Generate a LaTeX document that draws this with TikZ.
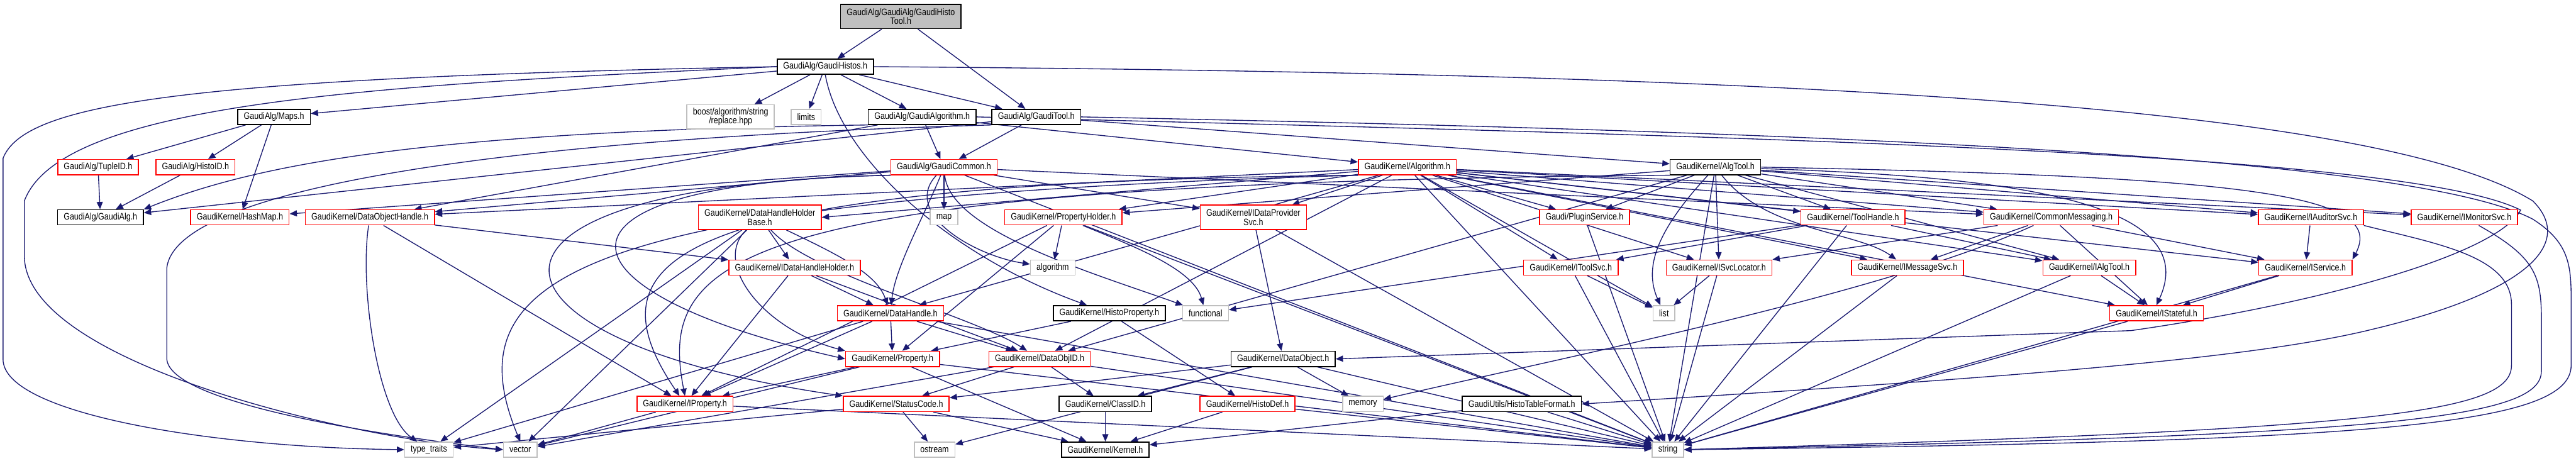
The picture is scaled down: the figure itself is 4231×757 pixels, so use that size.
\documentclass[tikz,border=0pt]{standalone}
\usepackage{fontspec}
\setmainfont{Liberation Sans}[FakeStretch=0.84]
\usetikzlibrary{arrows.meta}
\definecolor{edgecol}{RGB}{25,25,112}
\definecolor{sysgray}{RGB}{191,191,191}
\definecolor{topgray}{RGB}{191,191,191}
\definecolor{nodered}{RGB}{255,0,0}
\pgfdeclarelayer{bg}
\pgfdeclarelayer{edges}
\pgfsetlayers{bg,edges,main}
\newcommand\gfont{\fontsize{15.4}{15}\selectfont}
\tikzset{
  nd/.style={rectangle, minimum height=25pt, inner xsep=10pt, inner ysep=2pt, line width=1.6pt, fill=white, font=\gfont},
  rn/.style={nd, draw=nodered},
  bn/.style={nd, draw=black},
  gn/.style={nd, draw=sysgray},
  tn/.style={nd, draw=black, fill=topgray, align=center, minimum height=40pt},
  two/.style={align=center, minimum height=40pt},
  edgeln/.style={draw=edgecol, line width=1.4pt, -{Triangle[length=12pt,width=10pt]}}
}
\begin{document}
\begin{tikzpicture}[x=1pt,y=-1pt]
\useasboundingbox (0,0) rectangle (4231,757);
\begin{pgfonlayer}{bg}
\fill[white] (0,0) rectangle (4231,757);
\end{pgfonlayer}
% ---------------- nodes ----------------
\node[tn] (top) at (1479.5,27) {GaudiAlg/GaudiAlg/GaudiHisto\\Tool.h};
\node[bn] (histos) at (1355.5,109.5) {GaudiAlg/GaudiHistos.h};
\node[bn] (maps) at (450,192) {GaudiAlg/Maps.h};
\node[gn,two] (boost) at (1200,192) {boost/algorithm/string\\/replace.hpp};
\node[gn] (limits) at (1324,192) {limits};
\node[bn] (galgo) at (1514.5,192) {GaudiAlg/GaudiAlgorithm.h};
\node[bn] (gtool) at (1702,192) {GaudiAlg/GaudiTool.h};
\node[rn] (tupleid) at (161,274.5) {GaudiAlg/TupleID.h};
\node[rn] (histoid) at (321,274.5) {GaudiAlg/HistoID.h};
\node[rn] (gcommon) at (1550.5,274.5) {GaudiAlg/GaudiCommon.h};
\node[rn] (algh) at (2311.5,274.5) {GaudiKernel/Algorithm.h};
\node[bn] (algtool) at (2817.5,274.5) {GaudiKernel/AlgTool.h};
\node[bn] (gaudialg) at (165,357) {GaudiAlg/GaudiAlg.h};
\node[rn] (hashmap) at (394,357) {GaudiKernel/HashMap.h};
\node[rn] (dohandle) at (607.5,357) {GaudiKernel/DataObjectHandle.h};
\node[rn,two] (dhhbase) at (1248,357) {GaudiKernel/DataHandleHolder\\Base.h};
\node[gn] (map) at (1550.5,357) {map};
\node[rn] (propholder) at (1746.5,357) {GaudiKernel/PropertyHolder.h};
\node[rn,two] (idpsvc) at (2058.5,357) {GaudiKernel/IDataProvider\\Svc.h};
\node[rn] (plugin) at (2602.5,357) {Gaudi/PluginService.h};
\node[rn] (toolhandle) at (3043.5,357) {GaudiKernel/ToolHandle.h};
\node[rn] (commsg) at (3369,357) {GaudiKernel/CommonMessaging.h};
\node[rn] (iauditor) at (3795.5,357) {GaudiKernel/IAuditorSvc.h};
\node[rn] (imonitor) at (4047.5,357) {GaudiKernel/IMonitorSvc.h};
\node[rn] (idhholder) at (1305,439.5) {GaudiKernel/IDataHandleHolder.h};
\node[gn] (stdalgo) at (1729,439.5) {algorithm};
\node[rn] (itoolsvc) at (2580,439.5) {GaudiKernel/IToolSvc.h};
\node[rn] (isvcloc) at (2823.5,439.5) {GaudiKernel/ISvcLocator.h};
\node[rn] (imsgsvc) at (3133,439.5) {GaudiKernel/IMessageSvc.h};
\node[rn] (ialgtool) at (3431.5,439.5) {GaudiKernel/IAlgTool.h};
\node[rn] (iservice) at (3786.5,439.5) {GaudiKernel/IService.h};
\node[rn] (datahandle) at (1462.5,514.5) {GaudiKernel/DataHandle.h};
\node[bn] (histoprop) at (1822,514.5) {GaudiKernel/HistoProperty.h};
\node[gn] (functional) at (1980,514.5) {functional};
\node[gn] (list) at (2733,514.5) {list};
\node[rn] (istateful) at (3542,514.5) {GaudiKernel/IStateful.h};
\node[rn] (property) at (1466,589.5) {GaudiKernel/Property.h};
\node[rn] (dataobjid) at (1707.5,589.5) {GaudiKernel/DataObjID.h};
\node[bn] (dataobject) at (2107.5,589.5) {GaudiKernel/DataObject.h};
\node[rn] (iproperty) at (1125,663.5) {GaudiKernel/IProperty.h};
\node[rn] (statuscode) at (1472,663.5) {GaudiKernel/StatusCode.h};
\node[bn] (classid) at (1815.5,663.5) {GaudiKernel/ClassID.h};
\node[rn] (histodef) at (2049,663.5) {GaudiKernel/HistoDef.h};
\node[gn] (memory) at (2238.5,663.5) {memory};
\node[bn] (histotable) at (2499.5,663.5) {GaudiUtils/HistoTableFormat.h};
\node[gn] (typetraits) at (704.5,738.5) {type\_traits};
\node[gn] (vector) at (854.5,738.5) {vector};
\node[gn] (ostream) at (1535,738.5) {ostream};
\node[bn] (kernel) at (1815.5,738.5) {GaudiKernel/Kernel.h};
\node[gn] (string) at (2739.5,738.5) {string};
% ---------------- edges ----------------
\begin{pgfonlayer}{edges}
% top file
\draw[edgeln] (top) -- (histos);
\draw[edgeln] (top) -- (gtool);
% GaudiHistos
\draw[edgeln] (histos) -- (maps);
\draw[edgeln] (histos) -- (boost);
\draw[edgeln] (histos) -- (limits);
\draw[edgeln] (histos) -- (galgo);
\draw[edgeln] (histos) -- (gtool);
\draw[edgeln] (histos.west) .. controls (300,128) and (40,170) .. (5,260) -- (5,590) .. controls (5,680) and (350,735) .. (typetraits.west);
\draw[edgeln] (histos.west) .. controls (600,140) and (100,170) .. (40,330) -- (40,420) .. controls (40,600) and (600,725) .. (vector.west);
\draw[edgeln] (histos.south) .. controls (1380,260) and (1560,420) .. (histoprop);
\draw[edgeln] (histos.east) .. controls (2900,120) and (3900,170) .. (4160,330) .. controls (4230,400) and (4150,480) .. (3900,540) .. controls (3700,590) and (3300,620) .. (histotable.east);
% Maps
\draw[edgeln] (maps) -- (tupleid);
\draw[edgeln] (maps) -- (histoid);
\draw[edgeln] (maps) -- (hashmap);
\draw[edgeln] (tupleid) -- (gaudialg);
\draw[edgeln] (histoid) -- (gaudialg);
% GaudiAlgorithm
\draw[edgeln] (galgo.south west) .. controls (700,215) and (420,270) .. (gaudialg.north east);
\draw[edgeln] (galgo) -- (gcommon);
\draw[edgeln] (galgo) -- (algh);
\draw[edgeln] (galgo) -- (dohandle);
\draw[edgeln] (galgo.east) .. controls (2900,225) and (3950,250) .. (4140,345) .. controls (4100,420) and (3800,500) .. (3500,543) -- (dataobject.east);
% GaudiTool
\draw[edgeln] (gtool) -- (gcommon);
\draw[edgeln] (gtool) -- (gaudialg);
\draw[edgeln] (gtool) -- (algtool);
\draw[edgeln] (gtool.south west) .. controls (900,225) and (290,300) .. (274,440) -- (274,590) .. controls (280,660) and (600,712) .. (vector.west);
\draw[edgeln] (gtool.east) .. controls (2900,215) and (3950,250) .. (4160,360) .. controls (4223,400) and (4223,440) .. (4223,500) -- (4223,600) .. controls (4223,700) and (3900,725) .. (string.east);
% GaudiCommon
\draw[edgeln] (gcommon) -- (hashmap);
\draw[edgeln] (gcommon) -- (dohandle);
\draw[edgeln] (gcommon) -- (map);
\draw[edgeln] (gcommon) -- (idpsvc);
\draw[edgeln] (gcommon) .. controls (1480,350) and (1600,420) .. (stdalgo);
\draw[edgeln] (gcommon) -- (string);
\draw[edgeln] (gcommon.south west) .. controls (700,305) and (760,560) .. (statuscode.north west);
\draw[edgeln] (gcommon.south west) .. controls (850,300) and (900,480) .. (property.west);
\draw[edgeln] (gcommon) .. controls (1520,350) and (1470,440) .. (datahandle);
\draw[edgeln] (gcommon) -- (commsg);
\draw[edgeln] (gcommon) .. controls (1560,380) and (1800,450) .. (functional);
% Algorithm.h
\draw[edgeln] (algh) -- (propholder);
\draw[edgeln] (algh) -- (idpsvc);
\draw[edgeln] (algh) -- (plugin);
\draw[edgeln] (algh) -- (dhhbase.east);
\draw[edgeln] (algh) -- (toolhandle);
\draw[edgeln] (algh) -- (commsg);
\draw[edgeln] (algh) -- (iauditor);
\draw[edgeln] (algh) -- (imonitor);
\draw[edgeln] (algh) -- (iservice);
\draw[edgeln] (algh) -- (istateful);
\draw[edgeln] (algh) -- (isvcloc);
\draw[edgeln] (algh) -- (imsgsvc);
\draw[edgeln] (algh) -- (ialgtool);
\draw[edgeln] (algh) -- (itoolsvc);
\draw[edgeln] (algh.south west) .. controls (1100,300) and (960,420) .. (iproperty);
\draw[edgeln] (algh) -- (dataobjid);
\draw[edgeln] (algh) -- (datahandle);
\draw[edgeln] (algh.south west) .. controls (950,325) and (740,450) .. (vector.north);
\draw[edgeln] (algh) -- (list);
\draw[edgeln] (algh) -- (string);
\draw[edgeln] (algh) -- (dohandle);
% AlgTool.h
\draw[edgeln] (algtool) -- (plugin);
\draw[edgeln] (algtool) -- (toolhandle);
\draw[edgeln] (algtool) -- (commsg);
\draw[edgeln] (algtool) -- (iauditor);
\draw[edgeln] (algtool) -- (imonitor);
\draw[edgeln] (algtool) -- (ialgtool);
\draw[edgeln] (algtool) -- (isvcloc);
\draw[edgeln] (algtool) .. controls (2900,380) and (3050,380) .. (imsgsvc);
\draw[edgeln] (algtool.east) .. controls (3700,290) and (3920,320) .. (iservice.north east);
\draw[edgeln] (algtool) .. controls (3300,290) and (3620,330) .. (istateful.north);
\draw[edgeln] (algtool) -- (propholder);
\draw[edgeln] (algtool) -- (dataobjid);
\draw[edgeln] (algtool.south west) .. controls (1200,300) and (1080,420) .. (iproperty.north);
\draw[edgeln] (algtool) .. controls (2720,380) and (2700,440) .. (list);
\draw[edgeln] (algtool) -- (string);
% PropertyHolder
\draw[edgeln] (propholder) -- (stdalgo);
\draw[edgeln] (propholder) .. controls (1850,400) and (1960,440) .. (functional);
\draw[edgeln] (propholder) -- (iproperty);
\draw[edgeln] (propholder) -- (property);
\draw[edgeln] (propholder) -- (string);
% DataHandleHolderBase
\draw[edgeln] (dhhbase) -- (idhholder);
\draw[edgeln] (dhhbase) .. controls (1380,420) and (1440,450) .. (datahandle);
\draw[edgeln] (dhhbase) .. controls (1330,450) and (1600,520) .. (dataobjid);
\draw[edgeln] (dhhbase) .. controls (1170,430) and (1250,540) .. (property.north west);
\draw[edgeln] (dhhbase) -- (typetraits);
\draw[edgeln] (dhhbase) -- (vector);
% IDataHandleHolder
\draw[edgeln] (idhholder) -- (datahandle);
\draw[edgeln] (idhholder) -- (iproperty);
\draw[edgeln] (idhholder) -- (dataobjid);
% DataObjectHandle
\draw[edgeln] (dohandle) -- (idhholder);
\draw[edgeln] (dohandle) .. controls (590,470) and (620,680) .. (typetraits);
\draw[edgeln] (dohandle) -- (iproperty);
% IDataProviderSvc, PluginService
\draw[edgeln] (idpsvc) -- (dataobject);
\draw[edgeln] (idpsvc) -- (string);
\draw[edgeln] (plugin) -- (string);
% ToolHandle
\draw[edgeln] (toolhandle) -- (itoolsvc);
\draw[edgeln] (toolhandle) -- (ialgtool);
\draw[edgeln] (toolhandle) -- (functional);
\draw[edgeln] (toolhandle) -- (string);
% CommonMessaging
\draw[edgeln] (commsg) -- (isvcloc);
\draw[edgeln] (commsg) -- (imsgsvc);
\draw[edgeln] (commsg) -- (iservice);
\draw[edgeln] (commsg) -- (istateful);
\draw[edgeln] (commsg) .. controls (3100,480) and (2600,580) .. (memory);
% Auditor / Monitor
\draw[edgeln] (iauditor) -- (iservice);
\draw[edgeln] (iauditor.south east) .. controls (4000,400) and (4125,420) .. (4125,500) -- (4125,600) .. controls (4125,680) and (3900,705) .. (string.east);
\draw[edgeln] (imonitor) .. controls (4160,420) and (4174,450) .. (4174,520) -- (4174,610) .. controls (4174,690) and (3900,715) .. (string.east);
% interfaces
\draw[edgeln] (itoolsvc) -- (list);
\draw[edgeln] (itoolsvc) -- (string);
\draw[edgeln] (isvcloc) -- (list);
\draw[edgeln] (isvcloc) -- (string);
\draw[edgeln] (imsgsvc) -- (string);
\draw[edgeln] (ialgtool) -- (istateful);
\draw[edgeln] (ialgtool) -- (string);
\draw[edgeln] (iservice) -- (istateful);
\draw[edgeln] (iservice) -- (string);
\draw[edgeln] (istateful) -- (string);
% lower part
\draw[edgeln] (datahandle) -- (iproperty);
\draw[edgeln] (datahandle) -- (property);
\draw[edgeln] (datahandle) -- (dataobjid);
\draw[edgeln] (datahandle) -- (typetraits);
\draw[edgeln] (datahandle) -- (string);
\draw[edgeln] (histoprop) -- (property);
\draw[edgeln] (histoprop) -- (histodef);
\draw[edgeln] (property) -- (iproperty);
\draw[edgeln] (property) -- (kernel);
\draw[edgeln] (property) -- (vector);
\draw[edgeln] (property) -- (string);
\draw[edgeln] (dataobjid) -- (classid);
\draw[edgeln] (dataobjid) -- (statuscode);
\draw[edgeln] (dataobjid) -- (string);
\draw[edgeln] (dataobjid) -- (vector);
\draw[edgeln] (dataobject) -- (classid);
\draw[edgeln] (dataobject) -- (statuscode);
\draw[edgeln] (dataobject) -- (memory);
\draw[edgeln] (dataobject) -- (ostream);
\draw[edgeln] (dataobject) -- (string);
\draw[edgeln] (iproperty) -- (vector);
\draw[edgeln] (iproperty) -- (string);
\draw[edgeln] (statuscode) -- (ostream);
\draw[edgeln] (statuscode) -- (kernel);
\draw[edgeln] (statuscode) -- (typetraits);
\draw[edgeln] (classid) -- (kernel);
\draw[edgeln] (histodef) -- (kernel);
\draw[edgeln] (histodef) -- (string);
\draw[edgeln] (histotable) -- (kernel);
\draw[edgeln] (histotable) -- (string);
\end{pgfonlayer}
\end{tikzpicture}
\end{document}
